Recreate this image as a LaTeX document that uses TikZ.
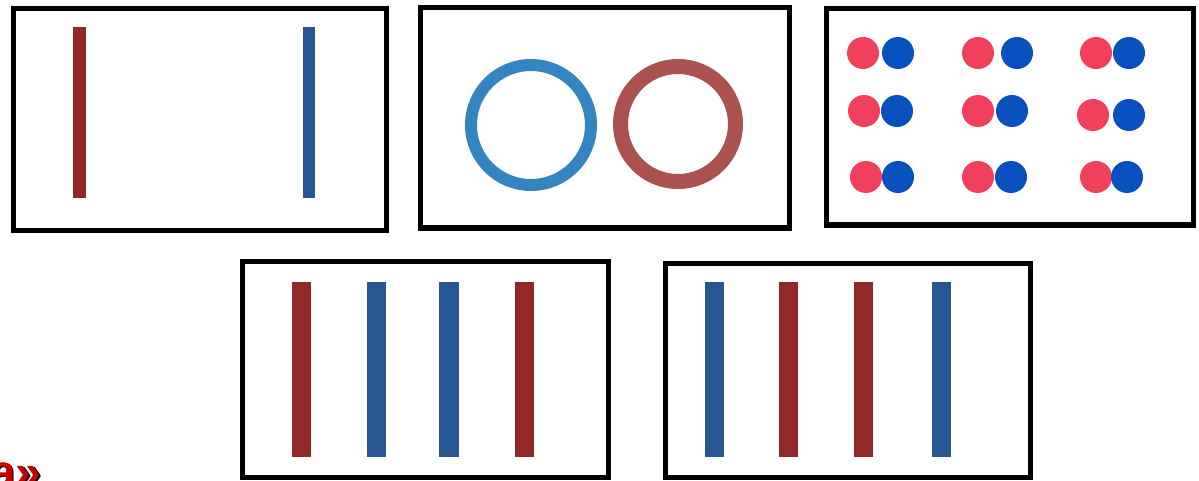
\documentclass[tikz,border=0pt]{standalone}
\usepackage{fontspec}
\setmainfont{Liberation Sans}
\definecolor{barred}{RGB}{146,40,40}
\definecolor{barblue}{RGB}{40,88,148}
\definecolor{ringblue}{RGB}{52,132,192}
\definecolor{ringred}{RGB}{172,82,78}
\definecolor{dotred}{RGB}{240,64,92}
\definecolor{dotblue}{RGB}{8,80,190}
\definecolor{txtred}{RGB}{200,0,0}
\begin{document}
\begin{tikzpicture}[x=1pt,y=-1pt,
  frame/.style={draw=black,line width=5pt},
  rbar/.style={fill=barred},
  bbar/.style={fill=barblue},
  rdot/.style={fill=dotred},
  bdot/.style={fill=dotblue},
  cuttext/.style={anchor=base west,inner sep=0pt,font=\bfseries\fontsize{46}{46}\selectfont}]
\useasboundingbox[fill=white] (0,0) rectangle (1199,481);
% box 1
\draw[frame] (13,9) rectangle (386,230);
\fill[rbar] (73,27) rectangle (86,198);
\fill[bbar] (303,27) rectangle (315,198);
% box 2
\draw[frame] (420,8) rectangle (789,228);
\draw[ringblue,line width=12pt] (531,125) circle[radius=60pt];
\draw[ringred,line width=15pt] (678,124) circle[radius=57.5pt];
% box 3
\draw[frame] (826,9) rectangle (1193,225);
\foreach \rx/\bx/\yy in {863/898/53,978/1017/53,1096/1129/53,
                         864/897/111,978/1012/111,1093/1129/115,
                         866/898/177,978/1011/177,1096/1127/177}{
  \fill[rdot] (\rx,\yy) circle[radius=16pt];
  \fill[bdot] (\bx,\yy) circle[radius=16pt];
}
% box 4
\draw[frame] (242,261) rectangle (608,477);
\fill[rbar] (292,282) rectangle (311,457);
\fill[bbar] (367,282) rectangle (386,457);
\fill[bbar] (439,282) rectangle (459,457);
\fill[rbar] (515,282) rectangle (534,457);
% box 5
\draw[frame] (665,263) rectangle (1030,477);
\fill[bbar] (705,282) rectangle (724,457);
\fill[rbar] (779,282) rectangle (798,457);
\fill[rbar] (854,282) rectangle (873,457);
\fill[bbar] (932,282) rectangle (951,457);
% cut-off text
\node[cuttext,text=black] (txtshadow) at (-8.5,488.5) {a»};
\node[cuttext,text=txtred] (txt) at (-10,487) {a»};
\end{tikzpicture}
\end{document}
